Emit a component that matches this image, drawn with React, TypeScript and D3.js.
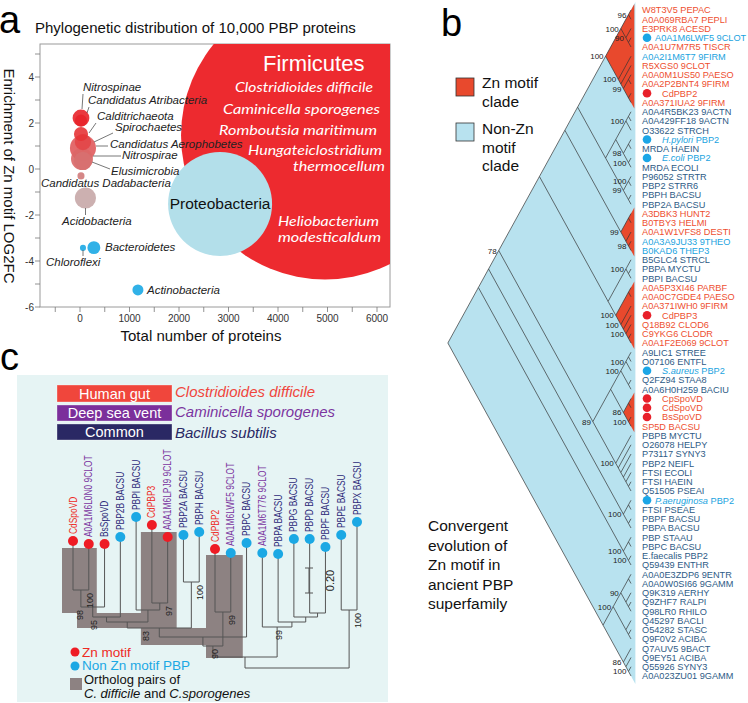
import React from 'react';
import * as d3 from 'd3';

const SANS = '"Liberation Sans", Arial, Helvetica, sans-serif';
const HUM = 'Lato, "Open Sans", sans-serif';

// ================= Panel a data =================
const phyla = ['Firmicutes', 'Proteobacteria', 'Nitrospinae', 'Candidatus Atribacteria', 'Calditrichaeota', 'Spirochaetes', 'Candidatus Aerophobetes', 'Nitrospirae', 'Elusimicrobia', 'Candidatus Dadabacteria', 'Acidobacteria', 'Chloroflexi', 'Bacteroidetes', 'Actinobacteria'];
const phylumProteins = [4950, 2830, 20, 20, 20, 60, 60, 40, 60, 20, 110, 60, 280, 1170];
const phylumLog2FC = [1.46, -1.52, 2.22, 2.1, 1.52, 1.17, 0.91, 0.43, 0.35, -0.3, -1.26, -3.43, -3.42, -5.26];
const phylumBubble = [5000, 652, 17, 9, 12, 16, 41, 29, 20, 3, 27, 2.2, 10, 7.3];
const phylumColor = ['#ed2a2f', '#b3dfea', '#e8232a', '#e8232a', '#e53436', '#e24648', '#e05a5c', '#da6767', '#d77070', '#d07a7a', '#c6a7a7', '#1ba8e4', '#1ba8e4', '#1ba8e4'];
const aXTickLabels = [0, 1000, 2000, 3000, 4000, 5000, 6000];
const aYTickLabels = [-6, -4, -2, 0, 2, 4];
const firmicutesSpecies = ['Clostridioides difficile', 'Caminicella sporogenes', 'Romboutsia maritimum', 'Hungateiclostridium', 'thermocellum', 'Heliobacterium', 'modesticaldum'];

// ================= Panel b data =================
const bLeaves = [
  'W8T3V5 PEPAC', 'A0A069RBA7 PEPLI', 'E3PRK8 ACESD', 'A0A1M6LWF5 9CLOT', 'A0A1U7M7R5 TISCR', 'A0A2I1M6T7 9FIRM', 'R5XGS0 9CLOT', 'A0A0M1US50 PAESO', 'A0A2P2BNT4 9FIRM', 'CdPBP2', 'A0A371IUA2 9FIRM',
  'A0A4R5BK23 9ACTN', 'A0A429FF18 9ACTN', 'O33622 STRCH', 'H.pylori PBP2', 'MRDA HAEIN', 'E.coli PBP2', 'MRDA ECOLI', 'P96052 STRTR', 'PBP2 STRR6', 'PBPH BACSU', 'PBP2A BACSU',
  'A3DBK3 HUNT2', 'B0TBY3 HELMI', 'A0A1W1VFS8 DESTI', 'A0A3A9JU33 9THEO', 'B0KAD6 THEP3', 'B5GLC4 STRCL', 'PBPA MYCTU', 'PBPI BACSU',
  'A0A5P3XI46 PARBF', 'A0A0C7GDE4 PAESO', 'A0A371IWH0 9FIRM', 'CdPBP3', 'Q18B92 CLOD6', 'C9YKG6 CLODR', 'A0A1F2E069 9CLOT',
  'A9LIC1 STREE', 'O07106 ENTFL', 'S.aureus PBP2', 'Q2FZ94 STAA8', 'A0A6H0H259 BACIU',
  'CpSpoVD', 'CdSpoVD', 'BsSpoVD', 'SP5D BACSU',
  'PBPB MYCTU', 'O26078 HELPY', 'P73117 SYNY3', 'PBP2 NEIFL', 'FTSI ECOLI', 'FTSI HAEIN', 'Q51505 PSEAI',
  'P.aeruginosa PBP2', 'FTSI PSEAE', 'PBPF BACSU', 'PBPA BACSU', 'PBP STAAU', 'PBPC BACSU', 'E.faecalis PBP2', 'Q59439 ENTHR',
  'A0A0E3ZDP6 9ENTR', 'A0A0W0SI66 9GAMM', 'Q9K319 AERHY', 'Q9ZHF7 RALPI', 'Q98LR0 RHILO', 'Q45297 BACLI', 'O54282 STASC', 'Q9F0V2 ACIBA', 'Q7AUV5 9BACT', 'Q9EY51 ACIBA', 'Q55926 SYNY3', 'A0A023ZU01 9GAMM',
];
// r = Zn-motif (red text), d = non-Zn (dark), l = highlighted (light blue)
const bLeafGroup = ('rrrlrlrrrrr' + 'dddldlddddd' + 'rrrllddd' + 'rrrrrrr' + 'ddldd' + 'rrrr' + 'ddddddd' + 'l' + 'ddddddddddddddddddd').split('');
const bLeafDot: Record<number, string> = { 3: 'b', 9: 'r', 14: 'b', 16: 'b', 33: 'r', 39: 'b', 42: 'r', 43: 'r', 44: 'r', 53: 'b' };
const bZnClades = [[0, 10], [22, 26], [30, 36], [42, 45]];
const bRed1 = '(((0,1)96,(2,(3,4))90)100,(5,(6,((7,8),(9,10))99))100)100';
const bN = '((((11,12),13)100,((14,15),(16,17)100)98),((18,19)100,(20,21))99)';
const bRed2 = '((22,23),(24,(25,26)98))99';
const bM = '((27,(28,29))100,((30,31),(32,(33,(34,(35,36))100))100)100)';
const bL3 = '(((((37,38),39)100,(40,41))100,((42,43),(44,45)100)86),(46,(47,(48,(49,(50,(51,52))))))100)89';
const bL2 = '((53,54),(55,56))100';
const bL1 = '((57,58),(59,60)100)100';
const bL0 = '((((61,62),(63,(64,65)))90,(66,(67,68)))100,(69,(70,(71,72)100))86)';
const bNewick = `((((((((${bRed1},${bN}),${bRed2}),${bM}),${bL3})78,${bL2}),${bL1}),${bL0})`;
const bLegend = [['Zn motif', 'clade'], ['Non-Zn', 'motif', 'clade']];
const bCaption = ['Convergent', 'evolution of', 'Zn motif in', 'ancient PBP', 'superfamily'];

// ================= Panel c data =================
const cLeaves = ['CdSpoVD', 'A0A1M6L0N0 9CLOT', 'BsSpoVD', 'PBP2B BACSU', 'PBPI BACSU', 'CdPBP3', 'A0A1M6LPJ9 9CLOT', 'PBP2A BACSU', 'PBPH BACSU', 'CdPBP2', 'A0A1M6LWF5 9CLOT', 'PBPC BACSU', 'A0A1M6T776 9CLOT', 'PBPA BACSU', 'PBPG BACSU', 'PBPD BACSU', 'PBPF BACSU', 'PBPE BACSU', 'PBPX BACSU'];
const cLeafSpecies = ['cd', 'cs', 'bs', 'bs', 'bs', 'cd', 'cs', 'bs', 'bs', 'cd', 'cs', 'bs', 'cs', 'bs', 'bs', 'bs', 'bs', 'bs', 'bs'];
const cLeafZn = [1, 1, 1, 0, 0, 1, 1, 0, 0, 1, 0, 0, 0, 0, 0, 0, 0, 0, 0];
const cNewick = '((((((((((0:0.392,1:0.368)100R:0.136,2:0.504)98L:0.08,3:0.64)95L:0.04,(4:0.744,(5:0.624,6:0.528)97R:0.056):0.096):0.048,(7:0.376,8:0.4)100R:0.368)83L:0.072,11:0.752):0.072,(9:0.504,10:0.472)99R:0.272)90C:0.088,(12:0.592,(13:0.544,(14:0.624,(15:0.592,16:0.528):0.032):0.04):0.04)99C:0.24):0.088,(17:0.6,18:0.704)100R:0.464)';
const cHabitats = ['Human gut', 'Deep sea vent', 'Common'];
const cSpecies = ['Clostridioides difficile', 'Caminicella sporogenes', 'Bacillus subtilis'];
const cOrthologPairs = [[0, 1], [5, 6], [9, 10]];
const cScaleBar = 0.2;

// ================= helpers =================
function parseNewick(s: string) {
  let i = 0;
  const read = (): any => {
    const n: any = { children: [], name: '', label: '', len: 0 };
    if (s[i] === '(') {
      i++;
      n.children.push(read());
      while (s[i] === ',') { i++; n.children.push(read()); }
      i++;
    }
    let tok = '';
    while (i < s.length && !',():;'.includes(s[i])) tok += s[i++];
    if (n.children.length) n.label = tok; else n.name = tok;
    if (s[i] === ':') {
      i++;
      let l = '';
      while (i < s.length && !',();'.includes(s[i])) l += s[i++];
      n.len = +l;
    }
    return n;
  };
  return read();
}

const aLabelLayout: Record<string, any> = {
  'Nitrospinae': { tx: 83, ty: 91, line: [83, 94, 82, 109] },
  'Candidatus Atribacteria': { tx: 88, ty: 104, line: [89, 107, 87, 113] },
  'Calditrichaeota': { tx: 97, ty: 120, line: [96, 123, 89, 133] },
  'Spirochaetes': { tx: 115, ty: 131, line: [113, 133, 94, 142] },
  'Candidatus Aerophobetes': { tx: 110, ty: 148, line: [108, 146, 96, 146] },
  'Nitrospirae': { tx: 122, ty: 159, line: [121, 156, 93, 156] },
  'Elusimicrobia': { tx: 111, ty: 175, line: [110, 169, 92, 162] },
  'Candidatus Dadabacteria': { tx: 41, ty: 187 },
  'Acidobacteria': { tx: 62, ty: 225, line: [85.5, 208, 85.5, 215] },
  'Chloroflexi': { tx: 46, ty: 266, line: [83, 250, 83, 256] },
  'Bacteroidetes': { tx: 105, ty: 251 },
  'Actinobacteria': { tx: 147, ty: 294 },
};
const firmLayout = [
  { x: 235, y: 92, w: 138 }, { x: 223, y: 114, w: 157 }, { x: 219, y: 135, w: 158 },
  { x: 248, y: 155, w: 134 }, { x: 293, y: 171, w: 92 }, { x: 278, y: 226, w: 101 }, { x: 278, y: 242, w: 103 },
];

const B_TIP = 631, B_SLOPE = 0.55;
const TXT = { r: '#ee4f2f', d: '#2e5b86', l: '#1aa3e0' } as any;
const DOT = { r: '#e8202a', b: '#1ca6e6' } as any;
const C_COL = { cd: '#ee2a24', cs: '#7b35a0', bs: '#2d2a7a' } as any;
const HAB_FILL = ['#f0463c', '#7b2f9b', '#2a2864'];
const SPEC_COL = ['#f0463c', '#7b35a0', '#2a2864'];

export default function App() {
  // ---------- panel a ----------
  const AX0 = 40, AX1 = 390, AY0 = 44, AY1 = 307;
  const xA = d3.scaleLinear().domain([0, 6000]).range([80, 377]);
  const yA = d3.scaleLinear().domain([-6, 4]).range([307, 77]);
  const rA = d3.scaleSqrt().domain([0, 5000]).range([0, 144]);
  const bubbles = phyla.map((p, i) => ({ p, cx: xA(phylumProteins[i]), cy: yA(phylumLog2FC[i]), r: rA(phylumBubble[i]), c: phylumColor[i] }))
    .sort((a, b) => b.r - a.r);
  const xMinor = d3.range(-500, 6001, 500);
  const yMinor = d3.range(-6, 6, 1).filter(v => yA(v) >= AY0);
  const proteo = bubbles.find(b => b.p === 'Proteobacteria')!;

  // ---------- panel b ----------
  const yB = d3.scaleLinear().domain([0, bLeaves.length - 1]).range([10, 676]);
  const bRoot: any = d3.hierarchy(parseNewick(bNewick), (d: any) => (d.children.length ? d.children : undefined));
  bRoot.eachAfter((n: any) => {
    if (!n.children) { n.lo = n.hi = +n.data.name; }
    else { n.lo = d3.min(n.children, (c: any) => c.lo); n.hi = d3.max(n.children, (c: any) => c.hi); }
    const y0 = yB(n.lo), y1 = yB(n.hi);
    n.py = (y0 + y1) / 2;
    n.px = B_TIP - B_SLOPE * (y1 - y0) / 2;
  });
  const bNodes: any[] = bRoot.descendants();
  const tri = (n: any, pad: number) => {
    const xe = B_TIP + B_SLOPE * pad;
    return `M${n.px},${n.py}L${xe},${yB(n.lo) - pad}L${xe},${yB(n.hi) + pad}Z`;
  };
  const znNodes = bZnClades.map(([a, b]) => bNodes.find(n => n.lo === a && n.hi === b)).filter(Boolean);

  // ---------- panel c ----------
  const xC = d3.scalePoint<string>().domain(cLeaves.map((_, i) => String(i))).range([73, 357]);
  const yC = d3.scaleLinear().domain([0, 1]).range([668, 543]);
  const cRoot: any = d3.hierarchy(parseNewick(cNewick), (d: any) => (d.children.length ? d.children : undefined));
  cRoot.eachBefore((n: any) => { n.dist = n.parent ? n.parent.dist + n.data.len : 0; n.py = yC(n.dist); });
  cRoot.eachAfter((n: any) => {
    if (!n.children) n.px = xC(n.data.name)!;
    else {
      const xs = n.children.map((c: any) => c.px);
      n.x0 = d3.min(xs); n.x1 = d3.max(xs); n.px = (n.x0 + n.x1) / 2;
    }
  });
  const cNodes: any[] = cRoot.descendants();
  const cLeafNode = (i: number) => cNodes.find(n => !n.children && n.data.name === String(i));
  const lca = (a: number, b: number) => cLeafNode(a).path(cLeafNode(b)).reduce((m: any, n: any) => (n.depth < m.depth ? n : m));
  const lx = (i: number) => xC(String(i))!;
  const ly = (i: number) => cLeafNode(i).py;
  const node2 = lca(0, 2), node5 = lca(0, 8), nodeM = lca(0, 9), nodeP = lca(0, 12), nodeP3 = lca(5, 6);
  const [p1, p2, p3] = cOrthologPairs;
  const greyRects = [
    [lx(p1[0]) - 11, Math.min(ly(p1[0]), ly(p1[1])) + 7, lx(p1[1]) + 8, node2.py + 6],
    [lx(p1[0]) + 4, node2.py + 6, nodeP3.px, node5.py],
    [lx(p2[0]) - 11, Math.min(ly(p2[0]), ly(p2[1])) + 7, lx(p2[1]) + 9, node5.py],
    [lx(p2[0]) - 11, node5.py, lx(p3[0]) + 2, nodeM.py - 1],
    [lx(p3[0]) - 9, Math.min(ly(p3[0]), ly(p3[1])) + 6, lx(p3[1]) + 12, nodeP.py + 1],
  ];
  const sbY0 = yC(0.6), sbY1 = yC(0.6 + cScaleBar);

  return (
    <svg width={748} height={703} style={{ position: 'absolute', left: 0, top: 0, background: '#fff' }} fontFamily={SANS}>
      <defs>
        <clipPath id="clipA"><rect x={AX0} y={AY0} width={AX1 - AX0} height={AY1 - AY0} /></clipPath>
      </defs>

      {/* ================= Panel c background ================= */}
      <rect x={17} y={375} width={371} height={327} fill="#e6f4f4" />

      {/* ================= Panel a ================= */}
      <text x={-1} y={33} fontSize={38}>a</text>
      <text x={35} y={33} fontSize={15} fill="#111">Phylogenetic distribution of 10,000 PBP proteins</text>
      <rect x={AX0} y={AY0} width={AX1 - AX0} height={AY1 - AY0} fill="#fff" stroke="#9a9a9a" strokeWidth={1} />
      <g clipPath="url(#clipA)">
        {bubbles.map(b => (
          <circle key={b.p} cx={b.cx} cy={b.cy} r={b.r} fill={b.c} fillOpacity={b.r > 40 ? 1 : 0.9} />
        ))}
      </g>
      <text x={263} y={71} fontSize={22} fill="#fff">Firmicutes</text>
      {firmicutesSpecies.map((t, i) => (
        <text key={t} x={firmLayout[i].x} y={firmLayout[i].y} fontSize={14} fontStyle="italic" fontFamily={HUM} fill="#fff"
          textLength={firmLayout[i].w} lengthAdjust="spacingAndGlyphs">{t}</text>
      ))}
      <text x={proteo.cx} y={proteo.cy + 5} fontSize={15.5} textAnchor="middle" fill="#111">Proteobacteria</text>
      {phyla.filter(p => aLabelLayout[p]).map(p => {
        const L = aLabelLayout[p];
        return (
          <g key={p}>
            {L.line && <line x1={L.line[0]} y1={L.line[1]} x2={L.line[2]} y2={L.line[3]} stroke="#555" strokeWidth={0.8} />}
            <text x={L.tx} y={L.ty} fontSize={11.5} fontStyle="italic" fill="#222">{p}</text>
          </g>
        );
      })}
      {xMinor.map(v => <line key={'xt' + v} x1={xA(v)} x2={xA(v)} y1={AY1} y2={AY1 + 5} stroke="#777" strokeWidth={0.8} />)}
      {aXTickLabels.map(v => <text key={'xl' + v} x={xA(v)} y={322} fontSize={10} textAnchor="middle" fill="#333">{v}</text>)}
      {yMinor.map(v => <line key={'yt' + v} x1={AX0 - 5} x2={AX0} y1={yA(v)} y2={yA(v)} stroke="#777" strokeWidth={0.8} />)}
      {aYTickLabels.map(v => <text key={'yl' + v} x={34} y={yA(v) + 3.5} fontSize={10} textAnchor="end" fill="#333">{v}</text>)}
      <text x={201} y={341} fontSize={15} textAnchor="middle" fill="#111">Total number of proteins</text>
      <text transform="translate(4,176) rotate(90)" fontSize={15} textAnchor="middle" fill="#111">Enrichment of Zn motif LOG2FC</text>

      {/* ================= Panel b ================= */}
      <text x={441} y={36} fontSize={38}>b</text>
      <rect x={456} y={78} width={18} height={18} fill="#e8492d" stroke="#333" strokeWidth={0.8} />
      <rect x={456} y={123} width={18} height={18} fill="#b8e2ef" stroke="#333" strokeWidth={0.8} />
      {bLegend[0].map((t, i) => <text key={'l0' + i} x={482} y={88 + i * 18.5} fontSize={15.5} fill="#111">{t}</text>)}
      {bLegend[1].map((t, i) => <text key={'l1' + i} x={482} y={134 + i * 18.5} fontSize={15.5} fill="#111">{t}</text>)}
      {bCaption.map((t, i) => <text key={'cap' + i} x={428} y={531 + i * 19.6} fontSize={15.5} fill="#111">{t}</text>)}

      <path d={tri(bRoot, 8)} fill="#b8e2ef" />
      {znNodes.map((n: any, i) => <path key={'zn' + i} d={tri(n, 6)} fill="#e8492d" />)}
      {bRoot.links().map((l: any, i: number) => (
        <line key={'bl' + i} x1={l.source.px} y1={l.source.py} x2={l.target.px} y2={l.target.py} stroke="#333" strokeWidth={0.7} />
      ))}
      {bNodes.filter(n => n.children && n.data.label).map((n, i) => (
        <text key={'bs' + i} x={n.px - 2} y={n.py + 3} fontSize={8} textAnchor="end" fill="#222">{n.data.label}</text>
      ))}
      {bLeaves.map((name, i) => {
        const g = bLeafGroup[i];
        const dot = bLeafDot[i];
        const ty = yB(i);
        const m = /^([A-Z]\.[a-z]+)( .*)$/.exec(name);
        const tx = dot ? (name.length > 14 ? 655 : 662) : 642;
        return (
          <g key={'bleaf' + i}>
            {dot && <circle cx={647} cy={ty} r={4.3} fill={DOT[dot]} />}
            <text x={tx} y={ty + 3.3} fontSize={9.2} fill={TXT[g]}>
              {g === 'l' && m ? (<><tspan fontStyle="italic">{m[1]}</tspan>{m[2]}</>) : name}
            </text>
          </g>
        );
      })}

      {/* ================= Panel c ================= */}
      <text x={0} y={370} fontSize={38}>c</text>
      {cHabitats.map((h, i) => {
        const y0 = [385, 405, 424][i];
        const hh = [17, 16, 16][i];
        return (
          <g key={h}>
            <rect x={57} y={y0} width={115} height={hh} fill={HAB_FILL[i]} stroke="#ffffff" strokeOpacity={0.4} strokeWidth={0.8} />
            <text x={114.5} y={y0 + hh / 2 + 5} fontSize={14.5} textAnchor="middle" fill="#fff">{h}</text>
            <text x={175} y={[397, 417, 438][i]} fontSize={15} fontStyle="italic" fill={SPEC_COL[i]}>{cSpecies[i]}</text>
          </g>
        );
      })}
      {greyRects.map((r, i) => (
        <rect key={'gr' + i} x={r[0]} y={r[1]} width={r[2] - r[0]} height={r[3] - r[1]} fill="#8d8282" />
      ))}
      {cNodes.filter(n => n.children).map((n, i) => (
        <line key={'ch' + i} x1={n.x0} x2={n.x1} y1={n.py} y2={n.py} stroke="#555" strokeWidth={1} />
      ))}
      {cNodes.filter(n => n.parent).map((n, i) => (
        <line key={'cv' + i} x1={n.px} x2={n.px} y1={n.parent.py} y2={n.py} stroke="#555" strokeWidth={1} />
      ))}
      {cNodes.filter(n => n.children && n.data.label).map((n, i) => {
        const lab = n.data.label as string;
        const side = lab.slice(-1);
        const val = lab.slice(0, -1);
        const cx = n.px + (side === 'R' ? 9 : side === 'L' ? -13 : 2);
        return (
          <text key={'cs' + i} transform={`translate(${cx + 3},${n.py + 3}) rotate(-90)`} fontSize={9} textAnchor="end" fill="#222">{val}</text>
        );
      })}
      {cLeaves.map((name, i) => {
        const x = lx(i), y = ly(i);
        return (
          <g key={'cl' + i}>
            <circle cx={x} cy={y} r={5} fill={cLeafZn[i] ? '#ee1c25' : '#1ba8e4'} />
            <text transform={`translate(${x + 3.5},${y - 7}) rotate(-90) scale(0.84,1)`} fontSize={10} fill={C_COL[cLeafSpecies[i]]}>{name}</text>
          </g>
        );
      })}
      {/* scale bar */}
      <line x1={309} x2={309} y1={sbY1} y2={sbY0} stroke="#555" strokeWidth={1} />
      <line x1={305} x2={313} y1={sbY1} y2={sbY1} stroke="#555" strokeWidth={1} />
      <line x1={305} x2={313} y1={sbY0} y2={sbY0} stroke="#555" strokeWidth={1} />
      <text transform={`translate(333.5,${(sbY0 + sbY1) / 2}) rotate(-90)`} fontSize={11} textAnchor="middle" fill="#222">{cScaleBar.toFixed(2)}</text>
      {/* legend c */}
      <circle cx={75} cy={652} r={4.5} fill="#ee1c25" />
      <text x={82} y={656.5} fontSize={13.5} fill="#ee2a24">Zn motif</text>
      <circle cx={75} cy={666} r={4.5} fill="#1ba8e4" />
      <text x={82} y={670} fontSize={13.5} fill="#1ba8e4">Non Zn motif PBP</text>
      <rect x={70} y={678} width={12} height={12} fill="#8d8282" />
      <text x={84} y={684} fontSize={13} fill="#111">Ortholog pairs of</text>
      <text x={84} y={698} fontSize={13} fill="#111">
        <tspan fontStyle="italic">C. difficile</tspan> and <tspan fontStyle="italic">C.sporogenes</tspan>
      </text>
    </svg>
  );
}
